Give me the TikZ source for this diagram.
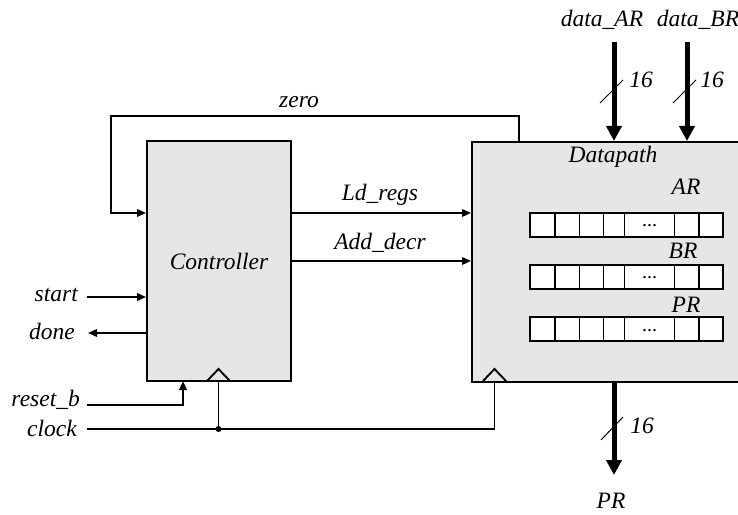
\documentclass[tikz,border=0pt]{standalone}
\usepackage{fontspec}
\setmainfont{Liberation Serif}
\usetikzlibrary{arrows.meta,positioning,calc}
\definecolor{boxfill}{RGB}{230,230,230}

\begin{document}
\begin{tikzpicture}[x=1bp,y=-1bp,font=\fontsize{23.5bp}{28bp}\selectfont\itshape,
  >={Triangle[length=9bp,width=7.5bp]},
  sig/.style={line width=1.9bp},
  bus/.style={line width=5bp,-{Triangle[length=15bp,width=15bp]}},
  tick/.style={line width=1bp},
  blk/.style={draw,line width=1.9bp,fill=boxfill,inner sep=0pt},
  lbl/.style={inner sep=0pt,anchor=base},
  cell/.style={draw,line width=1.9bp,fill=white}]
 \useasboundingbox (0,0) rectangle (738,515);
 % blocks
 \node[blk,minimum width=144bp,minimum height=240bp] (ctrl) at (219,261) {Controller};
 \node[blk,minimum width=276bp,minimum height=240bp,anchor=north west] (dp) at (471,141) {};
 \node[lbl] (dplbl) at (613,163) {Datapath};
 % registers
 \node[lbl] (arlbl) at (686,195) {AR};
 \node[lbl] (brlbl) at (683,259) {BR};
 \node[lbl] (prreglbl) at (686,312) {PR};
 \foreach \r/\y in {ar/213,br/265,pr/317}{
  \foreach \a/\b in {530/555,555/579.5,579.5/603.5,603.5/624.5,624.5/674.5,674.5/699,699/723}
   \draw[cell] (\a,\y) rectangle (\b,\y+24);
  \node[lbl,font=\fontsize{20bp}{20bp}\selectfont] (\r dots) at (649.5,\y+14) {...};
 }
 % zero feedback
 \coordinate (zeroR) at (519,116);
 \coordinate (zeroL) at (111,116);
 \draw[sig,->] (zeroR |- dp.north) -- (zeroR) -- (zeroL) |- ($(ctrl.west)+(0,-48)$);
 \node[lbl] (zerolbl) at (299,108) {zero};
 % control signals
 \coordinate (ldout) at ($(ctrl.east)+(0,-48)$);
 \draw[sig,->] (ldout) -- (ldout -| dp.west);
 \node[lbl] (ldlbl) at (380,201) {Ld\_regs};
 \draw[sig,->] (ctrl.east) -- (ctrl.east -| dp.west);
 \node[lbl] (addlbl) at (380,250) {Add\_decr};
 % external inputs
 \coordinate (startin) at (87,297);
 \draw[sig,->] (startin) -- (startin -| ctrl.west);
 \node[lbl,anchor=base east] (startlbl) at (78,301) {start};
 \coordinate (doneout) at (88,333);
 \draw[sig,->] (doneout -| ctrl.west) -- (doneout);
 \node[lbl,anchor=base east] (donelbl) at (75,339) {done};
 \coordinate (rstin) at (87,405);
 \coordinate (ctrlrst) at (183,381);
 \draw[sig,->] (rstin) -| (ctrlrst);
 \node[lbl,anchor=base east] (rstlbl) at (80,406) {reset\_b};
 % clock
 \coordinate (ctrlclk) at (218.5,381);
 \coordinate (dpclk) at (494.5,381);
 \coordinate (clkin) at (87,429);
 \draw[sig] ($(ctrlclk)+(-11.5,0)$) -- ($(ctrlclk)+(0,-12)$) -- ($(ctrlclk)+(11.5,0)$);
 \draw[sig] ($(dpclk)+(-11.5,0)$) -- ($(dpclk)+(0,-12)$) -- ($(dpclk)+(11.5,0)$);
 \draw[sig] (clkin) -- (clkin -| dpclk) -- (dpclk);
 \draw[sig] (ctrlclk) -- (ctrlclk |- clkin);
 \node[circle,fill,inner sep=0pt,minimum size=6bp] (clkdot) at (ctrlclk |- clkin) {};
 \node[lbl,anchor=base east] (clklbl) at (77,436) {clock};
 % data buses
 \coordinate (arin) at (614,42);
 \coordinate (brin) at (687,42);
 \coordinate (prout) at (614,475);
 \draw[bus] (arin) -- (arin |- dp.north);
 \draw[bus] (brin) -- (brin |- dp.north);
 \draw[bus] (prout |- dp.south) -- (prout);
 \draw[tick] ($(arin)+(-14,61)$) -- ++(23,-23);
 \draw[tick] ($(brin)+(-14,61)$) -- ++(23,-23);
 \draw[tick] ($(prout)+(-13,-35)$) -- ++(22,-23);
 \node[lbl] (arw) at (641,88) {16};
 \node[lbl] (brw) at (712,88) {16};
 \node[lbl] (prw) at (642,433) {16};
 \node[lbl] (darlbl) at (602,27) {data\_AR};
 \node[lbl] (dbrlbl) at (698,27) {data\_BR};
 \node[lbl] (prlbl) at (611,508) {PR};
\end{tikzpicture}
\end{document}
